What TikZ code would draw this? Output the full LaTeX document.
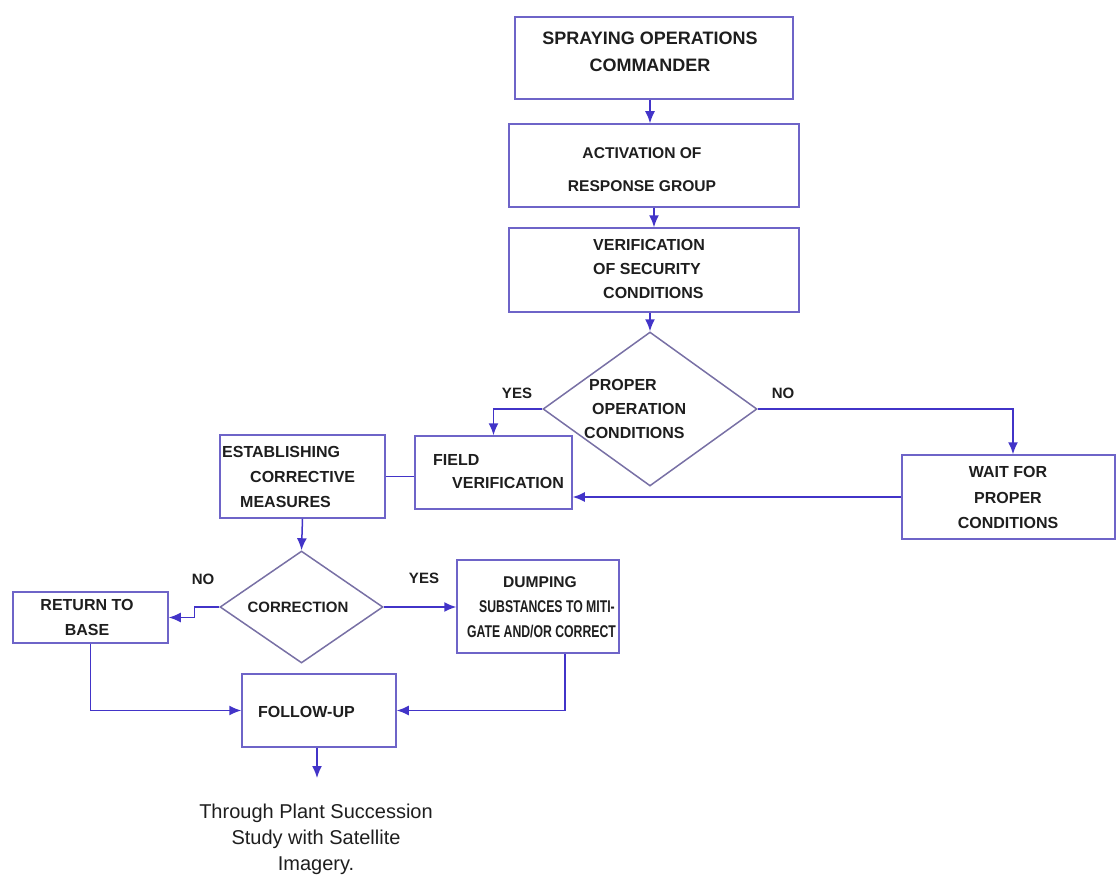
\documentclass[tikz,border=0pt]{standalone}
\usepackage{fontspec}
\setmainfont{Liberation Sans}
\newfontfamily\narrowfont[FakeStretch=0.72]{Liberation Sans}
\usetikzlibrary{arrows.meta,shapes.geometric}
\definecolor{linecol}{RGB}{66,52,200}
\definecolor{boxcol}{RGB}{110,100,200}
\definecolor{diacol}{RGB}{120,112,165}
\definecolor{txtcol}{RGB}{30,30,30}
\newcommand{\fsz}[2]{\fontsize{#1}{#2}\selectfont}
\begin{document}
\begin{tikzpicture}[x=1pt,y=-1pt,
  box/.style={draw=boxcol, line width=1.5pt, rectangle, inner sep=0pt},
  dia/.style={draw=diacol, line width=1.5pt, diamond, inner sep=0pt},
  txt/.style={inner sep=0pt, text=txtcol, font=\bfseries},
  conn/.style={draw=linecol, line width=1.5pt},
  arr/.style={conn, -{Latex[length=12pt,width=10pt]}}]
\useasboundingbox (0,0) rectangle (1117,880);

% shapes
\node[box, minimum width=278pt, minimum height=82pt] (b1) at (654,58) {};
\node[box, minimum width=290pt, minimum height=83pt] (b2) at (654,165.5) {};
\node[box, minimum width=290pt, minimum height=84pt] (b3) at (654,270) {};
\node[dia, minimum width=214pt, minimum height=154pt] (d1) at (650,409) {};
\node[box, minimum width=213pt, minimum height=84pt] (wait) at (1008.5,497) {};
\node[box, minimum width=157pt, minimum height=73pt] (field) at (493.5,472.5) {};
\node[box, minimum width=165pt, minimum height=83pt] (est) at (302.5,476.5) {};
\node[dia, minimum width=163pt, minimum height=112pt] (d2) at (301.5,607) {};
\node[box, minimum width=155pt, minimum height=51pt] (ret) at (90.5,617.5) {};
\node[box, minimum width=162pt, minimum height=93pt] (dump) at (538,606.5) {};
\node[box, minimum width=154pt, minimum height=73pt] (fol) at (319,710.5) {};
\coordinate (fin) at (317,778);

% texts
\node[txt, align=center, font=\bfseries\fsz{18}{27}] (t1) at (650,51.5) {SPRAYING OPERATIONS\\COMMANDER};
\node[txt, align=center, font=\bfseries\fsz{15.6}{33}] (t2) at (642,169.5) {ACTIVATION OF\\RESPONSE GROUP};
\node[txt, align=left, anchor=west, font=\bfseries\fsz{16}{24}] (t3) at (593,269) {VERIFICATION\\OF SECURITY\\\hspace*{10pt}CONDITIONS};
\node[txt, align=left, anchor=west, font=\bfseries\fsz{16}{24}] (t4) at (584,409) {\hspace*{5pt}PROPER\\\hspace*{8pt}OPERATION\\CONDITIONS};
\node[txt, align=left, anchor=west, font=\bfseries\fsz{16}{23}] (t5) at (433,471.5) {FIELD\\\hspace*{19pt}VERIFICATION};
\node[txt, align=left, anchor=west, font=\bfseries\fsz{16}{25}] (t6) at (222,477) {ESTABLISHING\\\hspace*{28pt}CORRECTIVE\\\hspace*{18pt}MEASURES};
\node[txt, align=center, font=\bfseries\fsz{16}{25.5}] (t7) at (1008,497.5) {WAIT FOR\\PROPER\\CONDITIONS};
\node[txt, font=\bfseries\fsz{15}{18}] (t8) at (298,607) {CORRECTION};
\node[txt, align=center, font=\bfseries\fsz{16}{25}] (t9) at (87,617.5) {RETURN TO\\BASE};
\node[txt, align=left, anchor=west, font=\bfseries\fsz{17}{25}] (t10) at (467,607) {\hspace*{36pt}{\fsz{15.6}{25}DUMPING}\\\hspace*{12pt}{\narrowfont SUBSTANCES TO MITI-}\\{\narrowfont GATE AND/OR CORRECT}};
\node[txt, anchor=west, font=\bfseries\fsz{16}{20}] (t11) at (258,712) {FOLLOW-UP};
\node[txt, align=center, font=\fsz{20}{26}] (t12) at (316,839) {Through Plant Succession\\Study with Satellite\\Imagery.};

% labels
\node[txt, font=\bfseries\fsz{15}{18}] (l1) at (517,393) {YES};
\node[txt, font=\bfseries\fsz{15}{18}] (l2) at (783,393) {NO};
\node[txt, font=\bfseries\fsz{15}{18}] (l3) at (203,579) {NO};
\node[txt, font=\bfseries\fsz{15}{18}] (l4) at (424,578) {YES};

% connectors
\draw[arr] ([xshift=-4pt]b1.south) -- ([xshift=-4pt]b2.north);
\draw[arr] (b2.south) -- (b3.north);
\draw[arr] ([xshift=-4pt]b3.south) -- (d1.north);
\draw[arr] (d1.west) -| (field.north);
\draw[arr] (d1.east) -| ([xshift=4.5pt]wait.north);
\draw[arr] (wait.west) -- (wait.west -| field.east);
\draw[conn] (est.east) -- (est.east -| field.west);
\draw[arr] (est.south) -- (d2.north);
\draw[arr] (d2.east) -- (d2.east -| dump.west);
\draw[arr] (d2.west) -- ++(-25,0) |- (ret.east);
\draw[arr] (ret.south) |- (fol.west);
\draw[arr] ([xshift=27pt]dump.south) |- (fol.east);
\draw[arr] ([xshift=-2pt]fol.south) -- (fin);
\end{tikzpicture}
\end{document}
